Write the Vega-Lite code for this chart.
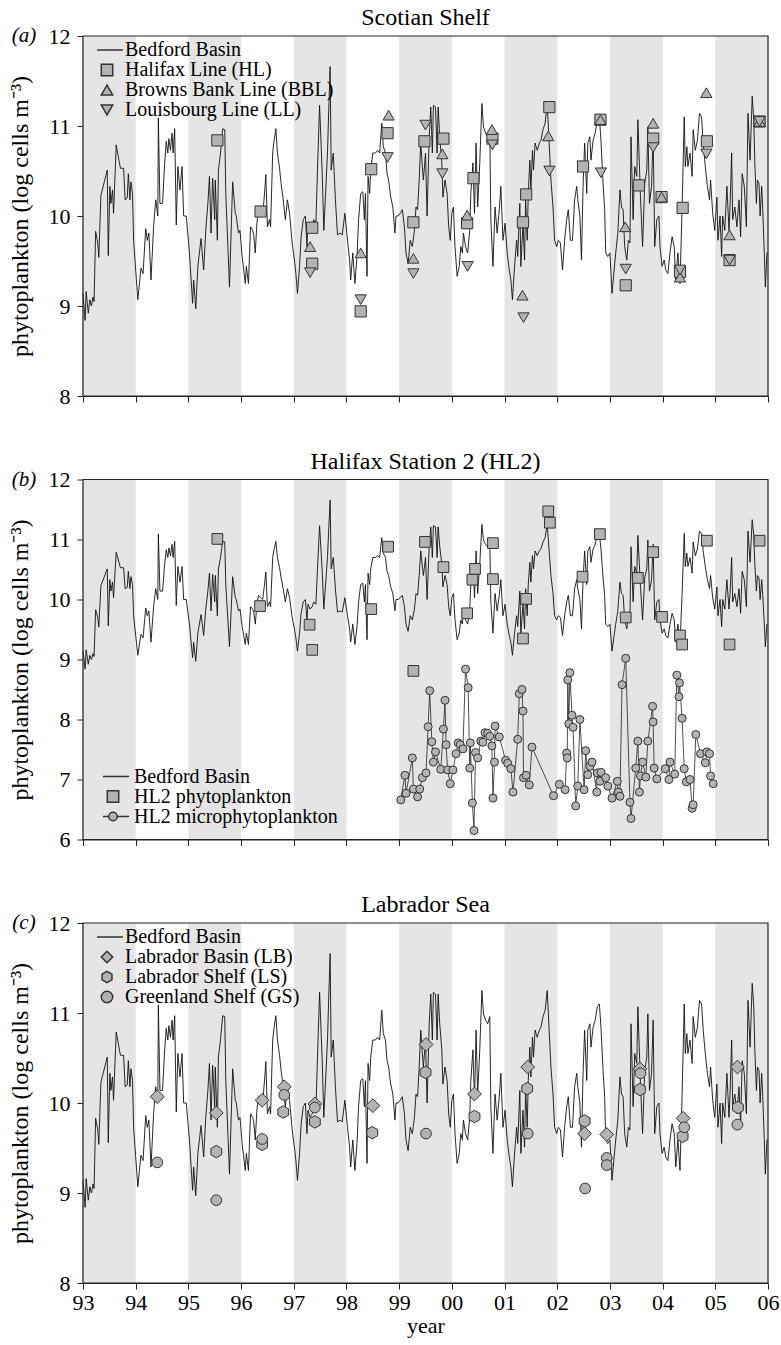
{
"$schema": "https://vega.github.io/schema/vega-lite/v6.json",
"padding": {"left": 8, "top": 6, "right": 5, "bottom": 3},
"spacing": 42.5,
"resolve": {"scale": {"shape": "independent", "y": "independent"}, "legend": {"shape": "independent"}},
"config": {
 "font": "Liberation Serif",
 "view": {"stroke": null},
 "axis": {"labelFont": "Liberation Serif", "titleFont": "Liberation Serif", "labelColor": "#000", "titleColor": "#000", "domainColor": "#222", "domainWidth": 1.2, "tickColor": "#222", "grid": false, "titleFontWeight": "normal", "labelFontSize": 22, "titleFontSize": 24, "tickSize": 6, "labelFlush": false, "labelOverlap": false},
 "title": {"font": "Liberation Serif", "fontSize": 24, "fontWeight": "normal", "color": "#000", "offset": -5},
 "legend": {"labelFont": "Liberation Serif", "labelFontSize": 20, "labelColor": "#000", "title": null, "labelLimit": 400}
},
"datasets": {
 "bands": [{"start":1993,"end":1994},{"start":1995,"end":1996},{"start":1997,"end":1998},{"start":1999,"end":2000},{"start":2001,"end":2002},{"start":2003,"end":2004},{"start":2005,"end":2006}],
 "bedford": [
{"t":1993.00,"v":9.14},{"t":1993.04,"v":8.84},{"t":1993.06,"v":9.16},{"t":1993.10,"v":8.92},{"t":1993.13,"v":9.07},{"t":1993.16,"v":9.00},{"t":1993.19,"v":9.10},{"t":1993.21,"v":9.05},{"t":1993.24,"v":9.83},{"t":1993.28,"v":9.70},{"t":1993.30,"v":9.54},{"t":1993.34,"v":10.23},{"t":1993.46,"v":10.51},{"t":1993.48,"v":9.56},{"t":1993.51,"v":10.33},{"t":1993.53,"v":10.14},{"t":1993.56,"v":10.29},{"t":1993.58,"v":10.03},{"t":1993.63,"v":10.79},{"t":1993.71,"v":10.53},{"t":1993.77,"v":10.53},{"t":1993.80,"v":10.18},{"t":1993.84,"v":10.20},{"t":1993.86,"v":10.47},{"t":1993.89,"v":10.18},{"t":1993.91,"v":10.38},{"t":1993.94,"v":10.25},{"t":1993.96,"v":9.73},{"t":1994.04,"v":9.07},{"t":1994.10,"v":9.42},{"t":1994.14,"v":9.36},{"t":1994.19,"v":9.86},{"t":1994.22,"v":9.73},{"t":1994.25,"v":9.81},{"t":1994.29,"v":9.29},{"t":1994.34,"v":9.88},{"t":1994.38,"v":10.18},{"t":1994.42,"v":10.00},{"t":1994.43,"v":11.09},{"t":1994.46,"v":10.14},{"t":1994.51,"v":10.14},{"t":1994.55,"v":10.59},{"t":1994.58,"v":10.83},{"t":1994.61,"v":10.70},{"t":1994.63,"v":10.86},{"t":1994.66,"v":10.73},{"t":1994.69,"v":10.92},{"t":1994.71,"v":10.70},{"t":1994.74,"v":10.97},{"t":1994.77,"v":9.90},{"t":1994.80,"v":10.55},{"t":1994.84,"v":10.29},{"t":1994.88,"v":10.55},{"t":1994.91,"v":10.00},{"t":1994.96,"v":10.00},{"t":1995.02,"v":9.59},{"t":1995.08,"v":9.03},{"t":1995.10,"v":9.29},{"t":1995.14,"v":8.97},{"t":1995.18,"v":9.44},{"t":1995.24,"v":9.75},{"t":1995.29,"v":9.40},{"t":1995.33,"v":9.84},{"t":1995.37,"v":10.14},{"t":1995.40,"v":10.44},{"t":1995.43,"v":9.81},{"t":1995.46,"v":10.42},{"t":1995.50,"v":9.96},{"t":1995.51,"v":10.40},{"t":1995.55,"v":9.73},{"t":1995.57,"v":10.51},{"t":1995.61,"v":10.70},{"t":1995.65,"v":10.97},{"t":1995.69,"v":10.96},{"t":1995.71,"v":10.25},{"t":1995.78,"v":9.21},{"t":1995.84,"v":10.38},{"t":1995.89,"v":10.03},{"t":1995.91,"v":10.00},{"t":1995.95,"v":9.81},{"t":1995.98,"v":9.84},{"t":1996.02,"v":9.55},{"t":1996.08,"v":9.25},{"t":1996.10,"v":9.44},{"t":1996.14,"v":9.25},
{"t":1996.18,"v":9.88},{"t":1996.22,"v":9.84},{"t":1996.24,"v":9.79},{"t":1996.27,"v":9.59},{"t":1996.30,"v":9.92},{"t":1996.33,"v":10.07},{"t":1996.41,"v":10.00},{"t":1996.45,"v":10.29},{"t":1996.47,"v":10.46},{"t":1996.50,"v":9.88},{"t":1996.54,"v":9.96},{"t":1996.56,"v":9.88},{"t":1996.60,"v":10.70},{"t":1996.62,"v":10.81},{"t":1996.66,"v":10.97},{"t":1996.69,"v":10.70},{"t":1996.73,"v":10.53},{"t":1996.76,"v":10.36},{"t":1996.80,"v":10.18},{"t":1996.84,"v":9.96},{"t":1996.88,"v":10.18},{"t":1996.92,"v":10.03},{"t":1996.97,"v":9.70},{"t":1997.02,"v":9.47},{"t":1997.04,"v":9.36},{"t":1997.07,"v":9.14},{"t":1997.11,"v":9.44},{"t":1997.14,"v":9.77},{"t":1997.18,"v":9.96},{"t":1997.22,"v":10.00},{"t":1997.25,"v":9.66},{"t":1997.27,"v":9.92},{"t":1997.31,"v":9.84},{"t":1997.35,"v":9.88},{"t":1997.38,"v":9.96},{"t":1997.42,"v":9.92},{"t":1997.45,"v":10.51},{"t":1997.49,"v":11.23},{"t":1997.54,"v":10.47},{"t":1997.57,"v":9.84},{"t":1997.61,"v":10.33},{"t":1997.64,"v":10.70},{"t":1997.66,"v":11.10},{"t":1997.69,"v":11.66},{"t":1997.71,"v":10.51},{"t":1997.75,"v":10.70},{"t":1997.79,"v":10.18},{"t":1997.83,"v":9.79},{"t":1997.88,"v":9.81},{"t":1997.92,"v":9.79},{"t":1997.97,"v":10.03},{"t":1998.02,"v":9.73},{"t":1998.06,"v":9.51},{"t":1998.08,"v":9.29},{"t":1998.12,"v":9.59},{"t":1998.16,"v":9.25},{"t":1998.20,"v":9.55},{"t":1998.23,"v":9.96},{"t":1998.27,"v":10.25},{"t":1998.31,"v":10.27},{"t":1998.34,"v":9.96},{"t":1998.36,"v":10.25},{"t":1998.39,"v":9.33},{"t":1998.41,"v":10.44},{"t":1998.44,"v":10.25},{"t":1998.46,"v":10.51},{"t":1998.50,"v":10.70},{"t":1998.55,"v":10.70},{"t":1998.59,"v":10.73},{"t":1998.63,"v":10.70},{"t":1998.67,"v":11.03},{"t":1998.70,"v":10.77},{"t":1998.74,"v":10.70},{"t":1998.77,"v":10.47},{"t":1998.80,"v":10.40},{"t":1998.84,"v":10.21},{"t":1998.88,"v":10.10},{"t":1998.92,"v":9.81},{"t":1998.94,"v":10.00},{"t":1998.98,"v":10.00},{"t":1999.02,"v":10.03},{"t":1999.06,"v":10.07},{"t":1999.10,"v":9.88},{"t":1999.13,"v":9.59},{"t":1999.17,"v":9.47},{"t":1999.21,"v":9.73},{"t":1999.25,"v":9.66},{"t":1999.29,"v":9.84},{"t":1999.32,"v":10.10},{"t":1999.35,"v":10.07},{"t":1999.38,"v":10.40},
{"t":1999.41,"v":10.81},{"t":1999.44,"v":10.55},{"t":1999.46,"v":10.40},{"t":1999.50,"v":10.70},{"t":1999.53,"v":10.00},{"t":1999.57,"v":10.88},{"t":1999.60,"v":11.21},{"t":1999.63,"v":10.70},{"t":1999.65,"v":11.23},{"t":1999.69,"v":11.21},{"t":1999.72,"v":10.70},{"t":1999.74,"v":11.21},{"t":1999.77,"v":10.88},{"t":1999.81,"v":10.59},{"t":1999.83,"v":10.21},{"t":1999.87,"v":10.40},{"t":1999.91,"v":10.25},{"t":1999.94,"v":9.88},{"t":1999.97,"v":9.73},{"t":2000.00,"v":10.03},{"t":2000.03,"v":10.10},{"t":2000.06,"v":9.66},{"t":2000.10,"v":9.33},{"t":2000.14,"v":9.44},{"t":2000.17,"v":9.66},{"t":2000.20,"v":9.59},{"t":2000.22,"v":9.81},{"t":2000.26,"v":9.66},{"t":2000.30,"v":9.59},{"t":2000.34,"v":9.84},{"t":2000.36,"v":10.25},{"t":2000.40,"v":10.59},{"t":2000.43,"v":10.03},{"t":2000.46,"v":10.81},{"t":2000.49,"v":10.10},{"t":2000.53,"v":10.59},{"t":2000.57,"v":11.25},{"t":2000.60,"v":10.99},{"t":2000.64,"v":10.92},{"t":2000.68,"v":10.88},{"t":2000.72,"v":10.96},{"t":2000.74,"v":9.96},{"t":2000.78,"v":9.44},{"t":2000.82,"v":10.10},{"t":2000.86,"v":9.81},{"t":2000.90,"v":10.07},{"t":2000.93,"v":10.33},{"t":2000.97,"v":9.73},{"t":2001.01,"v":9.92},{"t":2001.05,"v":9.59},{"t":2001.09,"v":9.40},{"t":2001.12,"v":9.29},{"t":2001.15,"v":9.07},{"t":2001.19,"v":9.44},{"t":2001.23,"v":9.73},{"t":2001.25,"v":9.55},{"t":2001.29,"v":10.14},{"t":2001.31,"v":9.44},{"t":2001.35,"v":9.92},{"t":2001.38,"v":9.51},{"t":2001.40,"v":10.18},{"t":2001.43,"v":9.73},{"t":2001.45,"v":10.25},{"t":2001.48,"v":10.62},{"t":2001.50,"v":10.29},{"t":2001.53,"v":10.73},{"t":2001.55,"v":10.51},{"t":2001.58,"v":10.81},{"t":2001.62,"v":10.73},{"t":2001.66,"v":10.81},{"t":2001.69,"v":10.84},{"t":2001.73,"v":10.96},{"t":2001.77,"v":11.03},{"t":2001.81,"v":11.25},{"t":2001.85,"v":10.77},{"t":2001.88,"v":10.40},{"t":2001.92,"v":10.10},{"t":2001.95,"v":9.73},{"t":2001.99,"v":9.66},{"t":2002.02,"v":9.73},{"t":2002.06,"v":9.70},{"t":2002.10,"v":9.40},{"t":2002.14,"v":9.73},{"t":2002.18,"v":9.96},{"t":2002.21,"v":10.07},{"t":2002.25,"v":9.73},{"t":2002.29,"v":9.73},{"t":2002.33,"v":10.18},{"t":2002.37,"v":10.33},{"t":2002.39,"v":10.18},{"t":2002.43,"v":10.00},{"t":2002.46,"v":9.51},{"t":2002.49,"v":10.33},{"t":2002.52,"v":10.81},{"t":2002.56,"v":10.25},{"t":2002.58,"v":10.81},{"t":2002.62,"v":10.88},
{"t":2002.64,"v":10.62},{"t":2002.68,"v":10.84},{"t":2002.72,"v":10.92},{"t":2002.76,"v":11.07},{"t":2002.80,"v":11.10},{"t":2002.83,"v":10.84},{"t":2002.87,"v":10.36},{"t":2002.90,"v":10.07},{"t":2002.92,"v":9.59},{"t":2002.96,"v":9.55},{"t":2003.00,"v":9.59},{"t":2003.04,"v":9.14},{"t":2003.08,"v":9.40},{"t":2003.11,"v":9.59},{"t":2003.15,"v":9.81},{"t":2003.19,"v":10.29},{"t":2003.22,"v":10.10},{"t":2003.25,"v":10.07},{"t":2003.28,"v":9.66},{"t":2003.32,"v":9.51},{"t":2003.35,"v":9.73},{"t":2003.38,"v":9.70},{"t":2003.40,"v":10.88},{"t":2003.44,"v":9.96},{"t":2003.47,"v":10.55},{"t":2003.51,"v":10.44},{"t":2003.53,"v":11.07},{"t":2003.58,"v":10.21},{"t":2003.62,"v":9.66},{"t":2003.66,"v":10.36},{"t":2003.70,"v":10.51},{"t":2003.72,"v":10.99},{"t":2003.75,"v":10.14},{"t":2003.79,"v":10.33},{"t":2003.82,"v":10.92},{"t":2003.85,"v":9.66},{"t":2003.89,"v":9.96},{"t":2003.93,"v":10.00},{"t":2003.95,"v":9.66},{"t":2003.99,"v":9.44},{"t":2004.03,"v":9.51},{"t":2004.06,"v":9.40},{"t":2004.10,"v":9.36},{"t":2004.14,"v":9.59},{"t":2004.18,"v":9.77},{"t":2004.22,"v":9.66},{"t":2004.25,"v":9.29},{"t":2004.29,"v":9.59},{"t":2004.33,"v":9.25},{"t":2004.37,"v":10.10},{"t":2004.41,"v":11.10},{"t":2004.43,"v":10.55},{"t":2004.46,"v":10.77},{"t":2004.48,"v":10.55},{"t":2004.52,"v":10.70},{"t":2004.56,"v":10.44},{"t":2004.58,"v":10.96},{"t":2004.62,"v":10.73},{"t":2004.66,"v":10.84},{"t":2004.70,"v":11.14},{"t":2004.74,"v":11.10},{"t":2004.77,"v":10.81},{"t":2004.81,"v":10.55},{"t":2004.85,"v":10.33},{"t":2004.89,"v":10.18},{"t":2004.91,"v":10.40},{"t":2004.95,"v":10.03},{"t":2004.99,"v":9.84},{"t":2005.03,"v":10.21},{"t":2005.05,"v":9.73},{"t":2005.09,"v":10.00},{"t":2005.12,"v":9.55},{"t":2005.14,"v":10.00},{"t":2005.18,"v":9.84},{"t":2005.22,"v":10.33},{"t":2005.26,"v":9.84},{"t":2005.28,"v":10.10},{"t":2005.31,"v":10.70},{"t":2005.33,"v":9.96},{"t":2005.37,"v":10.10},{"t":2005.41,"v":9.88},{"t":2005.45,"v":10.18},{"t":2005.48,"v":9.77},{"t":2005.51,"v":10.47},{"t":2005.55,"v":10.33},{"t":2005.59,"v":9.88},{"t":2005.62,"v":11.14},{"t":2005.66,"v":10.62},{"t":2005.70,"v":11.33},{"t":2005.73,"v":11.07},{"t":2005.75,"v":10.59},{"t":2005.78,"v":10.14},{"t":2005.80,"v":10.40},{"t":2005.83,"v":10.36},{"t":2005.85,"v":10.00},{"t":2005.88,"v":10.33},{"t":2005.90,"v":10.07},{"t":2005.93,"v":9.59},{"t":2005.95,"v":9.21},{"t":2005.98,"v":9.59},{"t":2006.00,"v":9.59}
 ],
 "scotian": [
{"t":1995.55,"v":10.84,"s":"Halifax Line (HL)"},{"t":1996.37,"v":10.05,"s":"Halifax Line (HL)"},{"t":1997.35,"v":9.87,"s":"Halifax Line (HL)"},{"t":1997.35,"v":9.47,"s":"Halifax Line (HL)"},{"t":1998.27,"v":8.94,"s":"Halifax Line (HL)"},{"t":1998.47,"v":10.52,"s":"Halifax Line (HL)"},{"t":1998.78,"v":10.92,"s":"Halifax Line (HL)"},{"t":1999.27,"v":9.93,"s":"Halifax Line (HL)"},{"t":1999.48,"v":10.83,"s":"Halifax Line (HL)"},{"t":1999.84,"v":10.86,"s":"Halifax Line (HL)"},{"t":2000.29,"v":9.92,"s":"Halifax Line (HL)"},{"t":2000.41,"v":10.42,"s":"Halifax Line (HL)"},{"t":2000.77,"v":10.86,"s":"Halifax Line (HL)"},{"t":2001.35,"v":9.93,"s":"Halifax Line (HL)"},{"t":2001.41,"v":10.24,"s":"Halifax Line (HL)"},{"t":2001.85,"v":11.21,"s":"Halifax Line (HL)"},{"t":2002.49,"v":10.55,"s":"Halifax Line (HL)"},{"t":2002.82,"v":11.07,"s":"Halifax Line (HL)"},{"t":2003.30,"v":9.23,"s":"Halifax Line (HL)"},{"t":2003.55,"v":10.34,"s":"Halifax Line (HL)"},{"t":2003.82,"v":10.86,"s":"Halifax Line (HL)"},{"t":2003.98,"v":10.21,"s":"Halifax Line (HL)"},{"t":2004.33,"v":9.38,"s":"Halifax Line (HL)"},{"t":2004.38,"v":10.09,"s":"Halifax Line (HL)"},{"t":2004.84,"v":10.83,"s":"Halifax Line (HL)"},{"t":2005.27,"v":9.51,"s":"Halifax Line (HL)"},{"t":2005.84,"v":11.05,"s":"Halifax Line (HL)"},
{"t":1997.31,"v":9.66,"s":"Browns Bank Line (BBL)"},{"t":1998.27,"v":9.59,"s":"Browns Bank Line (BBL)"},{"t":1998.80,"v":11.12,"s":"Browns Bank Line (BBL)"},{"t":1999.27,"v":9.53,"s":"Browns Bank Line (BBL)"},{"t":1999.82,"v":10.69,"s":"Browns Bank Line (BBL)"},{"t":2000.29,"v":10.01,"s":"Browns Bank Line (BBL)"},{"t":2000.76,"v":10.96,"s":"Browns Bank Line (BBL)"},{"t":2001.34,"v":9.12,"s":"Browns Bank Line (BBL)"},{"t":2001.83,"v":10.89,"s":"Browns Bank Line (BBL)"},{"t":2002.82,"v":11.07,"s":"Browns Bank Line (BBL)"},{"t":2003.29,"v":9.88,"s":"Browns Bank Line (BBL)"},{"t":2003.82,"v":11.03,"s":"Browns Bank Line (BBL)"},{"t":2003.98,"v":10.21,"s":"Browns Bank Line (BBL)"},{"t":2004.33,"v":9.32,"s":"Browns Bank Line (BBL)"},{"t":2004.83,"v":11.37,"s":"Browns Bank Line (BBL)"},{"t":2005.27,"v":9.79,"s":"Browns Bank Line (BBL)"},{"t":2005.84,"v":11.05,"s":"Browns Bank Line (BBL)"},
{"t":1997.31,"v":9.37,"s":"Louisbourg Line (LL)"},{"t":1998.27,"v":9.07,"s":"Louisbourg Line (LL)"},{"t":1998.78,"v":10.65,"s":"Louisbourg Line (LL)"},{"t":1999.27,"v":9.36,"s":"Louisbourg Line (LL)"},{"t":1999.50,"v":11.01,"s":"Louisbourg Line (LL)"},{"t":1999.82,"v":10.47,"s":"Louisbourg Line (LL)"},{"t":2000.30,"v":9.44,"s":"Louisbourg Line (LL)"},{"t":2000.77,"v":10.79,"s":"Louisbourg Line (LL)"},{"t":2001.36,"v":8.87,"s":"Louisbourg Line (LL)"},{"t":2001.85,"v":10.50,"s":"Louisbourg Line (LL)"},{"t":2002.83,"v":10.48,"s":"Louisbourg Line (LL)"},{"t":2003.30,"v":9.41,"s":"Louisbourg Line (LL)"},{"t":2003.82,"v":10.76,"s":"Louisbourg Line (LL)"},{"t":2004.33,"v":9.40,"s":"Louisbourg Line (LL)"},{"t":2004.83,"v":10.69,"s":"Louisbourg Line (LL)"},{"t":2005.27,"v":9.51,"s":"Louisbourg Line (LL)"},{"t":2005.84,"v":11.05,"s":"Louisbourg Line (LL)"}
 ],
 "hl2": [
{"t":1995.55,"v":11.01,"s":"HL2 phytoplankton"},{"t":1996.36,"v":9.89,"s":"HL2 phytoplankton"},{"t":1997.30,"v":9.58,"s":"HL2 phytoplankton"},{"t":1997.35,"v":9.16,"s":"HL2 phytoplankton"},{"t":1998.47,"v":9.84,"s":"HL2 phytoplankton"},{"t":1998.79,"v":10.88,"s":"HL2 phytoplankton"},{"t":1999.27,"v":8.81,"s":"HL2 phytoplankton"},{"t":1999.49,"v":10.96,"s":"HL2 phytoplankton"},{"t":1999.84,"v":10.54,"s":"HL2 phytoplankton"},{"t":2000.29,"v":9.77,"s":"HL2 phytoplankton"},{"t":2000.39,"v":10.33,"s":"HL2 phytoplankton"},{"t":2000.44,"v":10.51,"s":"HL2 phytoplankton"},{"t":2000.78,"v":10.94,"s":"HL2 phytoplankton"},{"t":2000.78,"v":10.34,"s":"HL2 phytoplankton"},{"t":2001.35,"v":9.35,"s":"HL2 phytoplankton"},{"t":2001.41,"v":10.01,"s":"HL2 phytoplankton"},{"t":2001.83,"v":11.47,"s":"HL2 phytoplankton"},{"t":2001.86,"v":11.28,"s":"HL2 phytoplankton"},{"t":2002.48,"v":10.38,"s":"HL2 phytoplankton"},{"t":2002.81,"v":11.09,"s":"HL2 phytoplankton"},{"t":2003.30,"v":9.70,"s":"HL2 phytoplankton"},{"t":2003.53,"v":10.36,"s":"HL2 phytoplankton"},{"t":2003.82,"v":10.79,"s":"HL2 phytoplankton"},{"t":2003.99,"v":9.71,"s":"HL2 phytoplankton"},{"t":2004.33,"v":9.40,"s":"HL2 phytoplankton"},{"t":2004.37,"v":9.25,"s":"HL2 phytoplankton"},{"t":2004.84,"v":10.98,"s":"HL2 phytoplankton"},{"t":2005.27,"v":9.25,"s":"HL2 phytoplankton"},{"t":2005.84,"v":10.98,"s":"HL2 phytoplankton"}
 ],
 "micro": [
{"t":1999.03,"v":6.66},{"t":1999.11,"v":7.07},{"t":1999.13,"v":6.77},{"t":1999.25,"v":7.36},{"t":1999.27,"v":6.84},{"t":1999.35,"v":6.71},{"t":1999.39,"v":6.84},{"t":1999.44,"v":7.03},{"t":1999.51,"v":7.11},{"t":1999.55,"v":7.88},{"t":1999.58,"v":8.48},{"t":1999.62,"v":7.63},{"t":1999.65,"v":7.29},{"t":1999.69,"v":7.46},{"t":1999.79,"v":7.17},{"t":1999.84,"v":7.84},{"t":1999.87,"v":8.32},{"t":1999.89,"v":7.58},{"t":1999.92,"v":7.16},{"t":1999.97,"v":6.93},{"t":2000.02,"v":7.16},{"t":2000.08,"v":7.43},{"t":2000.12,"v":7.61},{"t":2000.16,"v":7.58},{"t":2000.21,"v":7.51},{"t":2000.26,"v":8.84},{"t":2000.31,"v":8.53},{"t":2000.34,"v":7.19},{"t":2000.35,"v":7.61},{"t":2000.39,"v":6.61},{"t":2000.42,"v":6.15},{"t":2000.45,"v":7.45},{"t":2000.49,"v":7.36},{"t":2000.55,"v":7.64},{"t":2000.59,"v":7.62},{"t":2000.63,"v":7.78},{"t":2000.68,"v":7.77},{"t":2000.72,"v":7.72},{"t":2000.76,"v":7.56},{"t":2000.78,"v":6.69},{"t":2000.81,"v":7.29},{"t":2000.82,"v":7.89},{"t":2000.90,"v":7.71},{"t":2001.02,"v":7.32},{"t":2001.06,"v":7.27},{"t":2001.12,"v":7.18},{"t":2001.16,"v":6.79},{"t":2001.25,"v":7.67},{"t":2001.28,"v":8.43},{"t":2001.33,"v":8.50},{"t":2001.35,"v":8.14},{"t":2001.36,"v":7.03},{"t":2001.41,"v":7.07},{"t":2001.47,"v":6.91},{"t":2001.52,"v":7.54},{"t":2001.93,"v":6.73},{"t":2002.04,"v":6.92},{"t":2002.15,"v":6.83},{"t":2002.18,"v":7.44},{"t":2002.19,"v":7.36},{"t":2002.20,"v":8.66},{"t":2002.22,"v":7.93},{"t":2002.24,"v":8.78},{"t":2002.28,"v":8.07},{"t":2002.30,"v":7.87},{"t":2002.35,"v":6.56},{"t":2002.39,"v":6.89},{"t":2002.43,"v":8.00},{"t":2002.51,"v":6.83},{"t":2002.54,"v":7.48},{"t":2002.58,"v":7.08},{"t":2002.62,"v":7.22},{"t":2002.66,"v":7.29},{"t":2002.75,"v":6.79},{"t":2002.76,"v":7.11},{"t":2002.81,"v":6.97},{"t":2002.83,"v":7.12},{"t":2002.92,"v":7.03},{"t":2002.96,"v":6.89},{"t":2003.04,"v":6.69},{"t":2003.14,"v":6.97},{"t":2003.16,"v":6.79},{"t":2003.19,"v":6.72},{"t":2003.23,"v":8.58},{"t":2003.30,"v":9.02},{"t":2003.38,"v":6.62},{"t":2003.40,"v":6.35},{"t":2003.49,"v":7.19},{"t":2003.53,"v":7.64},{"t":2003.56,"v":6.79},{"t":2003.58,"v":7.06},{"t":2003.62,"v":7.29},{"t":2003.68,"v":7.04},{"t":2003.72,"v":7.64},{"t":2003.81,"v":8.22},{"t":2003.82,"v":7.96},{"t":2003.84,"v":7.19},{"t":2003.89,"v":7.01},{"t":2004.05,"v":7.18},{"t":2004.12,"v":7.00},{"t":2004.14,"v":7.29},{"t":2004.23,"v":7.09},{"t":2004.27,"v":8.74},{"t":2004.31,"v":8.38},{"t":2004.32,"v":8.61},{"t":2004.37,"v":8.02},{"t":2004.41,"v":7.18},{"t":2004.45,"v":6.96},{"t":2004.52,"v":7.00},{"t":2004.56,"v":6.52},{"t":2004.58,"v":6.58},{"t":2004.63,"v":7.75},{"t":2004.72,"v":7.43},{"t":2004.81,"v":7.28},{"t":2004.84,"v":7.46},{"t":2004.89,"v":7.43},{"t":2004.91,"v":7.06},{"t":2004.96,"v":6.93}
 ],
 "labrador": [
{"t":1994.41,"v":10.07,"s":"Labrador Basin (LB)"},{"t":1995.53,"v":9.89,"s":"Labrador Basin (LB)"},{"t":1996.40,"v":10.03,"s":"Labrador Basin (LB)"},{"t":1996.82,"v":10.18,"s":"Labrador Basin (LB)"},{"t":1997.40,"v":9.99,"s":"Labrador Basin (LB)"},{"t":1998.50,"v":9.97,"s":"Labrador Basin (LB)"},{"t":1999.51,"v":10.65,"s":"Labrador Basin (LB)"},{"t":2000.43,"v":10.10,"s":"Labrador Basin (LB)"},{"t":2001.44,"v":10.40,"s":"Labrador Basin (LB)"},{"t":2002.52,"v":9.66,"s":"Labrador Basin (LB)"},{"t":2002.94,"v":9.65,"s":"Labrador Basin (LB)"},{"t":2003.57,"v":10.38,"s":"Labrador Basin (LB)"},{"t":2004.39,"v":9.83,"s":"Labrador Basin (LB)"},{"t":2005.42,"v":10.40,"s":"Labrador Basin (LB)"},
{"t":1995.53,"v":9.46,"s":"Labrador Shelf (LS)"},{"t":1996.40,"v":9.54,"s":"Labrador Shelf (LS)"},{"t":1996.80,"v":9.90,"s":"Labrador Shelf (LS)"},{"t":1997.40,"v":9.79,"s":"Labrador Shelf (LS)"},{"t":1998.49,"v":9.67,"s":"Labrador Shelf (LS)"},{"t":1999.50,"v":10.34,"s":"Labrador Shelf (LS)"},{"t":2000.43,"v":9.85,"s":"Labrador Shelf (LS)"},{"t":2001.43,"v":10.16,"s":"Labrador Shelf (LS)"},{"t":2002.52,"v":9.80,"s":"Labrador Shelf (LS)"},{"t":2003.57,"v":10.15,"s":"Labrador Shelf (LS)"},{"t":2004.38,"v":9.63,"s":"Labrador Shelf (LS)"},{"t":2005.43,"v":9.95,"s":"Labrador Shelf (LS)"},
{"t":1994.41,"v":9.34,"s":"Greenland Shelf (GS)"},{"t":1995.53,"v":8.92,"s":"Greenland Shelf (GS)"},{"t":1996.40,"v":9.60,"s":"Greenland Shelf (GS)"},{"t":1996.82,"v":10.09,"s":"Greenland Shelf (GS)"},{"t":1997.40,"v":9.95,"s":"Greenland Shelf (GS)"},{"t":1999.51,"v":9.66,"s":"Greenland Shelf (GS)"},{"t":2001.44,"v":9.66,"s":"Greenland Shelf (GS)"},{"t":2002.53,"v":9.05,"s":"Greenland Shelf (GS)"},{"t":2002.94,"v":9.39,"s":"Greenland Shelf (GS)"},{"t":2002.94,"v":9.31,"s":"Greenland Shelf (GS)"},{"t":2003.58,"v":10.33,"s":"Greenland Shelf (GS)"},{"t":2004.41,"v":9.73,"s":"Greenland Shelf (GS)"},{"t":2005.42,"v":9.76,"s":"Greenland Shelf (GS)"}
 ]
},
"vconcat": [
 {
  "width": 685, "height": 360,
  "title": {"text": "Scotian Shelf"},
  "layer": [
   {"data": {"name": "bands"}, "mark": {"type": "rect", "fill": "#e5e5e5"},
    "encoding": {"x": {"field": "start", "type": "quantitative", "scale": {"domain": [1993, 2006], "nice": false, "zero": false},
       "axis": {"values": [1993,1993.5,1994,1994.5,1995,1995.5,1996,1996.5,1997,1997.5,1998,1998.5,1999,1999.5,2000,2000.5,2001,2001.5,2002,2002.5,2003,2003.5,2004,2004.5,2005,2005.5,2006], "labels": false, "title": null}},
     "x2": {"field": "end"}}},
   {"data": {"name": "bedford"}, "mark": {"type": "line", "stroke": "#111", "strokeWidth": 0.9},
    "encoding": {"x": {"field": "t", "type": "quantitative"},
     "y": {"field": "v", "type": "quantitative", "scale": {"domain": [8, 12], "nice": false, "zero": false},
       "axis": {"values": [8,9,10,11,12], "format": "d", "title": "phytoplankton (log cells m⁻³)", "titlePadding": 16, "labelPadding": 7}}}},
   {"data": {"name": "scotian"}, "mark": {"type": "point", "filled": true, "fill": "#b3b3b3", "stroke": "#333", "strokeWidth": 1, "opacity": 1, "size": 125},
    "encoding": {"x": {"field": "t", "type": "quantitative"}, "y": {"field": "v", "type": "quantitative"},
     "shape": {"field": "s", "type": "nominal", "scale": {"domain": ["Bedford Basin", "Halifax Line (HL)", "Browns Bank Line (BBL)", "Louisbourg Line (LL)"], "range": ["M-2.8,0H2.8", "square", "triangle-up", "triangle-down"]},
       "legend": {"orient": "none", "legendX": 14, "legendY": 5, "padding": 0, "symbolSize": 130, "clipHeight": 18, "rowPadding": 0, "labelOffset": 8,
         "encode": {"symbols": {"update": {"fill": {"value": "#b3b3b3"}, "stroke": {"value": "#222"}, "strokeWidth": {"value": 1}, "opacity": {"value": 1}}}}}}}},
   {"data": {"values": [{}]}, "mark": {"type": "rect", "filled": false, "stroke": "#222", "strokeWidth": 1.2},
    "encoding": {"x": {"datum": 1993, "type": "quantitative"}, "x2": {"datum": 2006}, "y": {"datum": 12, "type": "quantitative"}, "y2": {"datum": 8}}},
   {"data": {"values": [{}]}, "mark": {"type": "text", "text": "(a)", "fontSize": 21, "fontStyle": "italic", "align": "center", "baseline": "middle"},
    "encoding": {"x": {"datum": 1991.88, "type": "quantitative"}, "y": {"datum": 12, "type": "quantitative"}}}
  ]
 },
 {
  "width": 685, "height": 360,
  "title": {"text": "Halifax Station 2 (HL2)"},
  "layer": [
   {"data": {"name": "bands"}, "mark": {"type": "rect", "fill": "#e5e5e5"},
    "encoding": {"x": {"field": "start", "type": "quantitative", "scale": {"domain": [1993, 2006], "nice": false, "zero": false},
       "axis": {"values": [1993,1993.5,1994,1994.5,1995,1995.5,1996,1996.5,1997,1997.5,1998,1998.5,1999,1999.5,2000,2000.5,2001,2001.5,2002,2002.5,2003,2003.5,2004,2004.5,2005,2005.5,2006], "labels": false, "title": null}},
     "x2": {"field": "end"}}},
   {"data": {"name": "bedford"}, "mark": {"type": "line", "stroke": "#111", "strokeWidth": 0.9},
    "encoding": {"x": {"field": "t", "type": "quantitative"},
     "y": {"field": "v", "type": "quantitative", "scale": {"domain": [6, 12], "nice": false, "zero": false},
       "axis": {"values": [6,7,8,9,10,11,12], "format": "d", "title": "phytoplankton (log cells m⁻³)", "titlePadding": 16, "labelPadding": 7}}}},
   {"data": {"name": "micro"}, "mark": {"type": "line", "stroke": "#222", "strokeWidth": 0.8},
    "encoding": {"x": {"field": "t", "type": "quantitative"}, "y": {"field": "v", "type": "quantitative"}}},
   {"data": {"name": "micro"}, "mark": {"type": "point", "shape": "circle", "filled": true, "fill": "#b3b3b3", "stroke": "#333", "strokeWidth": 1, "opacity": 1, "size": 64},
    "encoding": {"x": {"field": "t", "type": "quantitative"}, "y": {"field": "v", "type": "quantitative"}}},
   {"data": {"name": "hl2"}, "mark": {"type": "point", "filled": true, "fill": "#b3b3b3", "stroke": "#333", "strokeWidth": 1, "opacity": 1, "size": 115},
    "encoding": {"x": {"field": "t", "type": "quantitative"}, "y": {"field": "v", "type": "quantitative"},
     "shape": {"field": "s", "type": "nominal", "scale": {"domain": ["Bedford Basin", "HL2 phytoplankton", "HL2 microphytoplankton"], "range": ["M-2.8,0H2.8", "square", "M-2.8,0H-0.75M0.75,0H2.8M0.75,0A0.75,0.75,0,1,1,-0.75,0A0.75,0.75,0,1,1,0.75,0Z"]},
       "legend": {"orient": "none", "legendX": 20, "legendY": 288, "padding": 0, "symbolSize": 130, "clipHeight": 18, "rowPadding": 0, "labelOffset": 11,
         "encode": {"symbols": {"update": {"fill": {"value": "#b3b3b3"}, "stroke": {"value": "#222"}, "strokeWidth": {"value": 1}, "opacity": {"value": 1}}}}}}}},
   {"data": {"values": [{}]}, "mark": {"type": "rect", "filled": false, "stroke": "#222", "strokeWidth": 1.2},
    "encoding": {"x": {"datum": 1993, "type": "quantitative"}, "x2": {"datum": 2006}, "y": {"datum": 12, "type": "quantitative"}, "y2": {"datum": 6}}},
   {"data": {"values": [{}]}, "mark": {"type": "text", "text": "(b)", "fontSize": 21, "fontStyle": "italic", "align": "center", "baseline": "middle"},
    "encoding": {"x": {"datum": 1991.88, "type": "quantitative"}, "y": {"datum": 12, "type": "quantitative"}}}
  ]
 },
 {
  "width": 685, "height": 360,
  "title": {"text": "Labrador Sea"},
  "layer": [
   {"data": {"name": "bands"}, "mark": {"type": "rect", "fill": "#e5e5e5"},
    "encoding": {"x": {"field": "start", "type": "quantitative", "scale": {"domain": [1993, 2006], "nice": false, "zero": false},
       "axis": {"values": [1993,1993.5,1994,1994.5,1995,1995.5,1996,1996.5,1997,1997.5,1998,1998.5,1999,1999.5,2000,2000.5,2001,2001.5,2002,2002.5,2003,2003.5,2004,2004.5,2005,2005.5,2006], "labelExpr": "datum.value % 1 == 0 ? slice(toString(datum.value), 2) : ''", "labelPadding": 3, "title": "year", "titleFontSize": 22, "titlePadding": 2}},
     "x2": {"field": "end"}}},
   {"data": {"name": "bedford"}, "mark": {"type": "line", "stroke": "#111", "strokeWidth": 0.9},
    "encoding": {"x": {"field": "t", "type": "quantitative"},
     "y": {"field": "v", "type": "quantitative", "scale": {"domain": [8, 12], "nice": false, "zero": false},
       "axis": {"values": [8,9,10,11,12], "format": "d", "title": "phytoplankton (log cells m⁻³)", "titlePadding": 16, "labelPadding": 7}}}},
   {"data": {"name": "labrador"}, "transform": [{"filter": "datum.s == 'Labrador Basin (LB)'"}],
    "mark": {"type": "point", "filled": true, "fill": "#b3b3b3", "stroke": "#333", "strokeWidth": 1, "opacity": 1, "size": 190},
    "encoding": {"x": {"field": "t", "type": "quantitative"}, "y": {"field": "v", "type": "quantitative"},
     "shape": {"field": "s", "type": "nominal", "scale": {"domain": ["Bedford Basin", "Labrador Basin (LB)", "Labrador Shelf (LS)", "Greenland Shelf (GS)"], "range": ["M-2.8,0H2.8", "diamond", "M0,-1L0.866,-0.5L0.866,0.5L0,1L-0.866,0.5L-0.866,-0.5Z", "circle"]},
       "legend": {"orient": "none", "legendX": 14, "legendY": 5, "padding": 0, "symbolSize": 130, "clipHeight": 18, "rowPadding": 0, "labelOffset": 8,
         "encode": {"symbols": {"update": {"fill": {"value": "#b3b3b3"}, "stroke": {"value": "#222"}, "strokeWidth": {"value": 1}, "opacity": {"value": 1}}}}}}}},
   {"data": {"name": "labrador"}, "transform": [{"filter": "datum.s == 'Labrador Shelf (LS)'"}],
    "mark": {"type": "point", "filled": true, "fill": "#b3b3b3", "stroke": "#333", "strokeWidth": 1, "opacity": 1, "size": 155},
    "encoding": {"x": {"field": "t", "type": "quantitative"}, "y": {"field": "v", "type": "quantitative"},
     "shape": {"field": "s", "type": "nominal"}}},
   {"data": {"name": "labrador"}, "transform": [{"filter": "datum.s == 'Greenland Shelf (GS)'"}],
    "mark": {"type": "point", "filled": true, "fill": "#b3b3b3", "stroke": "#333", "strokeWidth": 1, "opacity": 1, "size": 115},
    "encoding": {"x": {"field": "t", "type": "quantitative"}, "y": {"field": "v", "type": "quantitative"},
     "shape": {"field": "s", "type": "nominal"}}},
   {"data": {"values": [{}]}, "mark": {"type": "rect", "filled": false, "stroke": "#222", "strokeWidth": 1.2},
    "encoding": {"x": {"datum": 1993, "type": "quantitative"}, "x2": {"datum": 2006}, "y": {"datum": 12, "type": "quantitative"}, "y2": {"datum": 8}}},
   {"data": {"values": [{}]}, "mark": {"type": "text", "text": "(c)", "fontSize": 21, "fontStyle": "italic", "align": "center", "baseline": "middle"},
    "encoding": {"x": {"datum": 1991.88, "type": "quantitative"}, "y": {"datum": 12, "type": "quantitative"}}}
  ]
 }
]
}
